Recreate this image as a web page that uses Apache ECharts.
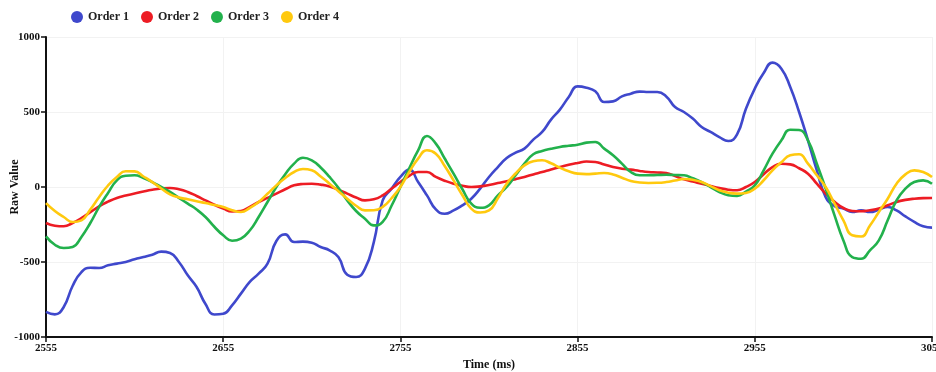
<!DOCTYPE html>
<html>
<head>
<meta charset="utf-8">
<script src="https://cdn.jsdelivr.net/npm/echarts@6/dist/echarts.min.js"></script>
<style>
  html, body { margin: 0; padding: 0; background: #fff; }
  #chart { width: 936px; height: 372px; }
</style>
</head>
<body>
<div id="chart"></div>
<script>
// time axis (ms), one reading every 5 ms
var times = [];
for (var t = 2555; t <= 3055; t += 5) times.push(t);

var seriesNames = ['Order 1', 'Order 2', 'Order 3', 'Order 4'];
var xTicks = [2555, 2655, 2755, 2855, 2955, 3055];

// values
var order1 = [-833, -849, -800, -660, -567, -538, -540, -522, -511, -500,
  -482, -467, -451, -431, -440, -500, -589, -667, -780, -850,
  -845, -789, -711, -633, -578, -511, -360, -316, -367, -364,
  -371, -400, -422, -467, -585, -600, -544, -367, -89, -11,
  67, 116, 33, -56, -149, -178, -156, -122, -78, -11,
  67, 133, 193, 229, 256, 316, 367, 449, 516, 600,
  671, 662, 638, 567, 571, 604, 622, 636, 633, 633,
  604, 533, 500, 456, 400, 367, 333, 307, 351, 522,
  656, 760, 829, 789, 667, 500, 311, 111, -67, -127,
  -144, -167, -156, -167, -151, -133, -156, -196, -233, -262, -271];

var order2 = [-240, -258, -262, -240, -207, -168, -129, -98, -73, -57,
  -44, -30, -18, -10, -7, -15, -33, -60, -89, -118,
  -144, -163, -160, -132, -100, -72, -44, -15, 11, 20,
  22, 16, 4, -18, -44, -70, -89, -82, -56, -12,
  33, 75, 100, 100, 67, 42, 22, 8, 0, 4,
  13, 26, 38, 52, 67, 84, 100, 117, 133, 148,
  160, 170, 167, 150, 133, 122, 116, 107, 100, 97,
  93, 73, 51, 36, 22, 7, -7, -18, -22, 0,
  33, 85, 133, 155, 151, 125, 89, 22, -44, -98,
  -140, -160, -162, -155, -144, -122, -100, -86, -78, -74, -73];

var order3 = [-329, -385, -407, -400, -333, -240, -133, -40, 44, 75,
  78, 60, 33, 0, -33, -72, -111, -150, -200, -265,
  -322, -358, -344, -290, -200, -100, 0, 85, 156, 195,
  178, 130, 67, -5, -89, -160, -211, -256, -233, -125,
  0, 125, 244, 340, 289, 190, 89, -15, -111, -138,
  -122, -56, 0, 78, 156, 218, 240, 255, 267, 275,
  282, 296, 300, 256, 211, 156, 100, 78, 78, 80,
  82, 80, 78, 58, 33, 0, -33, -55, -60, -30,
  11, 111, 222, 311, 382, 380, 311, 156, -11, -189,
  -356, -467, -478, -422, -356, -222, -89, -11, 33, 44, 22];

var order4 = [-107, -160, -200, -233, -222, -150, -67, 10, 67, 105,
  104, 70, 33, -10, -49, -70, -82, -95, -107, -120,
  -133, -155, -167, -140, -100, -45, 11, 60, 100, 120,
  111, 70, 22, -28, -78, -125, -156, -155, -133, -75,
  0, 100, 189, 245, 222, 140, 44, -55, -144, -170,
  -156, -75, 22, 90, 144, 172, 178, 158, 129, 105,
  89, 86, 89, 93, 84, 62, 40, 30, 27, 28,
  33, 43, 53, 48, 33, 6, -22, -38, -44, -40,
  -11, 45, 111, 165, 211, 218, 156, 78, 0, -111,
  -222, -322, -330, -256, -167, -78, 22, 84, 111, 100, 67];

var colors = ['#3f48cc', '#ed1c24', '#22b14c', '#ffc90e'];
var allValues = [order1, order2, order3, order4];

var font = 'Liberation Serif';

function pairs(vals) {
  return vals.map(function (v, i) { return [times[i], v]; });
}

var series = seriesNames.map(function (name, i) {
  return {
    name: name,
    type: 'line',
    data: pairs(allValues[i]),
    smooth: true,
    showSymbol: false,
    lineStyle: { width: 2.6, color: colors[i] },
    itemStyle: { color: colors[i] }
  };
});

var option = {
  animation: false,
  backgroundColor: '#fff',
  color: colors,
  legend: {
    data: seriesNames,
    left: 66,
    top: 6,
    icon: 'circle',
    itemWidth: 12,
    itemHeight: 12,
    itemGap: 12,
    textStyle: { fontFamily: font, fontWeight: 'bold', fontSize: 12, color: '#222' }
  },
  grid: { left: 46, right: 4, top: 37, bottom: 35, outerBoundsMode: 'none', containLabel: false },
  xAxis: {
    type: 'value',
    min: xTicks[0],
    max: xTicks[xTicks.length - 1],
    interval: 100,
    name: 'Time (ms)',
    nameLocation: 'middle',
    nameGap: 22,
    nameMoveOverlap: false,
    nameTextStyle: { fontFamily: font, fontWeight: 'bold', fontSize: 12, color: '#111' },
    axisLine: { onZero: false, lineStyle: { color: '#111', width: 2 } },
    axisTick: { length: 5, lineStyle: { color: '#111', width: 1.5 } },
    axisLabel: {
      fontFamily: font, fontWeight: 'bold', fontSize: 11, color: '#111', margin: 6,
      formatter: function (v) { return String(v); }
    },
    splitLine: { show: true, lineStyle: { color: '#f2f2f2', width: 1 } }
  },
  yAxis: {
    type: 'value',
    min: -1000,
    max: 1000,
    interval: 500,
    name: 'Raw Value',
    nameLocation: 'middle',
    nameGap: 25,
    nameMoveOverlap: false,
    nameTextStyle: { fontFamily: font, fontWeight: 'bold', fontSize: 12, color: '#111' },
    axisLine: { show: true, lineStyle: { color: '#111', width: 2 } },
    axisTick: { show: true, length: 5, lineStyle: { color: '#111', width: 1.5 } },
    axisLabel: {
      fontFamily: font, fontWeight: 'bold', fontSize: 11, color: '#111', margin: 6,
      formatter: function (v) { return String(v); }
    },
    splitLine: { show: true, lineStyle: { color: '#f2f2f2', width: 1 } }
  },
  series: series
};

var myChart = echarts.init(document.getElementById('chart'), null, { renderer: 'canvas' });
myChart.setOption(option);
</script>
</body>
</html>
